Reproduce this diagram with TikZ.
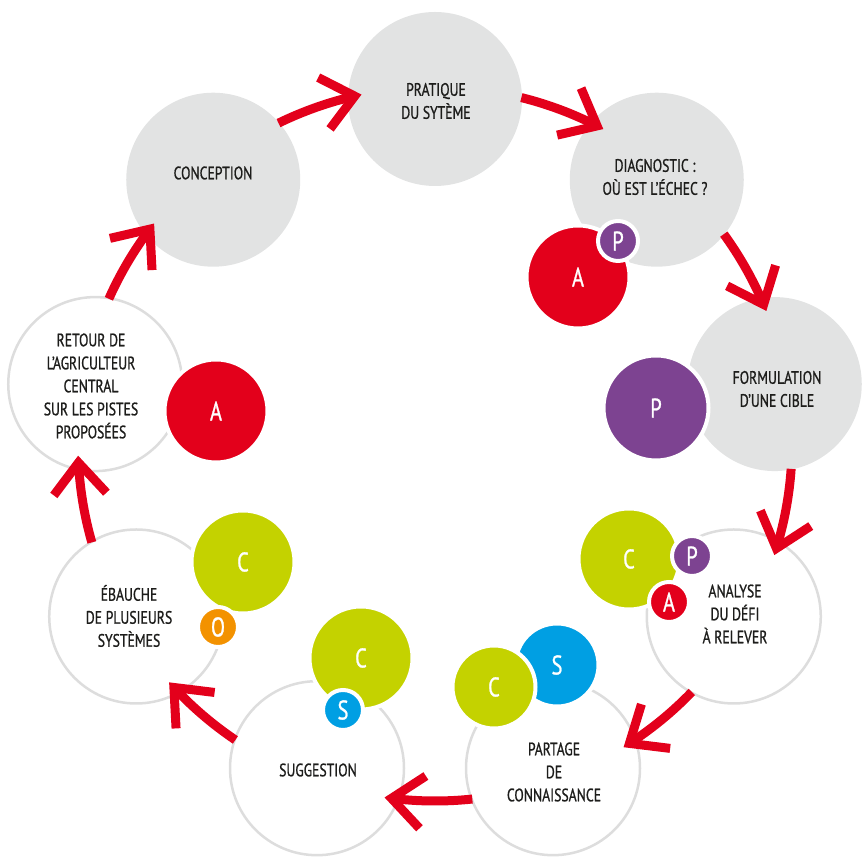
\documentclass[tikz,border=0pt]{standalone}
\usepackage{fontspec}
\setmainfont{PT Sans}[FakeStretch=0.76, FakeBold=0.9]
\usetikzlibrary{calc}
\definecolor{ringgrey}{HTML}{E2E3E3}
\definecolor{ringline}{HTML}{DDDDDD}
\definecolor{cred}{HTML}{E3001B}
\definecolor{cpurple}{HTML}{7D4391}
\definecolor{cgreen}{HTML}{C4D200}
\definecolor{cblue}{HTML}{009FE3}
\definecolor{corange}{HTML}{F39200}
\definecolor{txt}{HTML}{1D1D1B}
\begin{document}
\begin{tikzpicture}[x=1pt,y=1pt,
  stage/.style={circle, minimum size=174pt, inner sep=0pt},
  filled/.style={stage, fill=ringgrey},
  open/.style={stage, draw=ringline, line width=2.5pt, fill=white},
  lbl/.style={text=txt, font=\fontsize{18}{23}\selectfont, align=center, inner sep=0pt},
  badge/.style={circle, draw=white, line width=4pt, inner sep=0pt, text=white,
    font=\fontsize{27}{27}\selectfont},
  flow/.style={draw=cred, line width=9pt, line join=miter, miter limit=10}
]
\useasboundingbox (0,0) rectangle (867,858);
\coordinate (O) at (435,414);

% the nine stages of the cycle
\node[filled] (pratique)    at ($(O)+(90:345)$)   {};
\node[filled] (diagnostic)  at ($(O)+(50:345)$)   {};
\node[filled] (formulation) at ($(O)+(10:345)$)   {};
\node[open]   (analyse)     at ($(O)+(-30:345)$)  {};
\node[open]   (partage)     at ($(O)+(-70:345)$)  {};
\node[open]   (suggestion)  at ($(O)+(-110:345)$) {};
\node[open]   (ebauche)     at ($(O)+(-150:345)$) {};
\node[open]   (retour)      at ($(O)+(170:345)$)  {};
\node[filled] (conception)  at ($(O)+(130:345)$)  {};

% stage captions
\node[lbl] (tpratique)    at (436,757) {PRATIQUE\\DU SYTÈME};
\node[lbl] (tdiagnostic)  at (655,681) {DIAGNOSTIC :\\OÙ EST L’ÉCHEC ?};
\node[lbl] (tformulation) at (777,469) {FORMULATION\\D’UNE CIBLE};
\node[lbl] (tanalyse)     at (735,244) {ANALYSE\\DU DÉFI\\À RELEVER};
\node[lbl] (tpartage)     at (554,86)  {PARTAGE\\DE\\CONNAISSANCE};
\node[lbl] (tsuggestion)  at (318,88)  {SUGGESTION};
\node[lbl] (tebauche)     at (129,242) {ÉBAUCHE\\DE PLUSIEURS\\SYSTÈMES};
\node[lbl] (tretour)      at (91,472)  {RETOUR DE\\L’AGRICULTEUR\\CENTRAL\\SUR LES PISTES\\PROPOSÉES};
\node[lbl] (tconception)  at (213,685) {CONCEPTION};

% arrows between consecutive stages
\foreach \a [count=\i] in {130,90,50,10,-30,-70,-110,-150,170} {
  \coordinate (tail\i) at ($(O)+(\a-14:357)$);
  \coordinate (tip\i)  at ($(O)+(\a-27:357)$);
  \coordinate (barbA\i) at ($(tip\i)+(\a+23:41)$);
  \coordinate (barbB\i) at ($(tip\i)+(\a+103:41)$);
  \draw[flow] (tail\i) arc[start angle=\a-14, end angle=\a-27, radius=357];
  \draw[flow] (barbA\i) -- (tip\i) -- (barbB\i);
}

% actor badges
\node[badge, fill=cred, minimum size=103pt]    (aDiag) at (578,581) {A};
\node[badge, fill=cpurple, minimum size=40pt]  (pDiag) at (618,617) {P};
\node[badge, fill=cpurple, minimum size=105pt] (pForm) at (656,450) {P};
\node[badge, fill=cgreen, minimum size=101pt]  (cAna)  at (629,299) {C};
\node[badge, fill=cpurple, minimum size=40pt]  (pAna)  at (692,302) {P};
\node[badge, fill=cred, minimum size=40pt]     (aAna)  at (669,256) {A};
\node[badge, fill=cblue, minimum size=83pt]    (sPart) at (557,193) {S};
\node[badge, fill=cgreen, minimum size=83pt]   (cPart) at (494,171) {C};
\node[badge, fill=cgreen, minimum size=103pt]  (cSugg) at (361,200) {C};
\node[badge, fill=cblue, minimum size=40pt]    (sSugg) at (343,148) {S};
\node[badge, fill=cgreen, minimum size=103pt]  (cEba)  at (243,296) {C};
\node[badge, fill=corange, minimum size=40pt]  (oEba)  at (218,231) {O};
\node[badge, fill=cred, minimum size=103pt]    (aRet)  at (216,447) {A};
\end{tikzpicture}
\end{document}
